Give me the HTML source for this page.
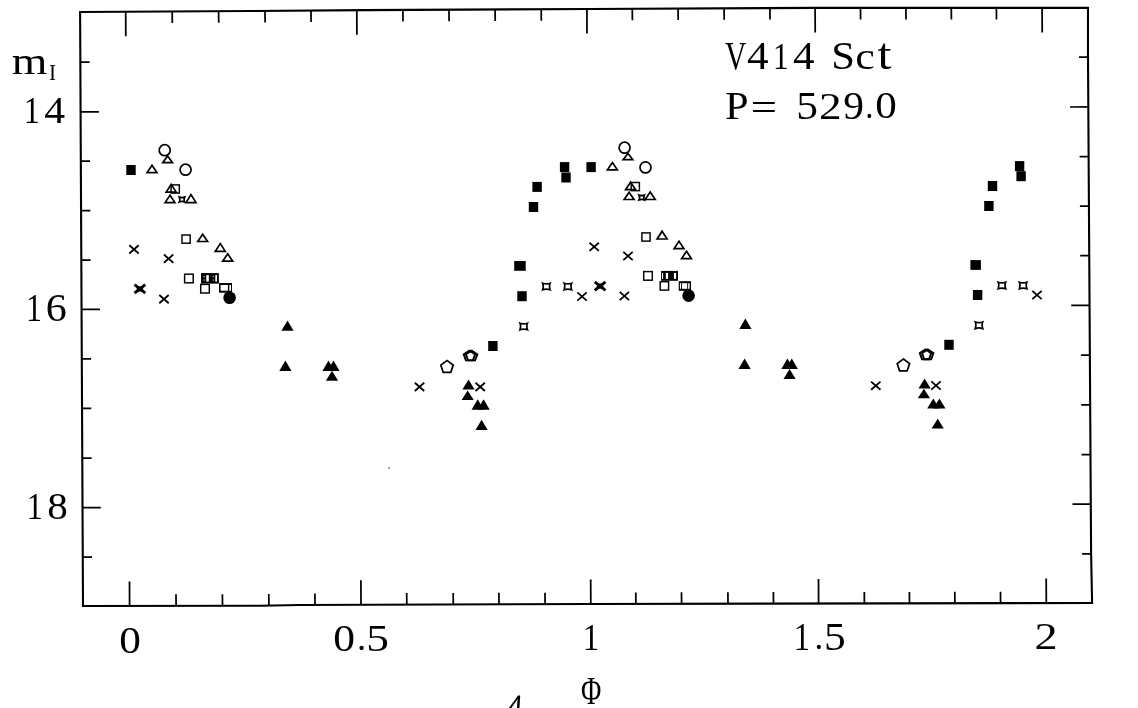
<!DOCTYPE html>
<html><head><meta charset="utf-8"><title>V414 Sct</title>
<style>
html,body{margin:0;padding:0;background:#fff;}
body{width:1138px;height:708px;overflow:hidden;font-family:"Liberation Serif",serif;}
svg{display:block;will-change:transform;}
text{font-family:"Liberation Serif",serif;fill:#000;}
</style></head><body>
<svg width="1138" height="708" viewBox="0 0 1138 708">
<g id="frame">
<polygon points="80.1,12.0 250,11.0 365,10.1 590,9.0 815,7.9 1088.0,7.9 1088.0,57 1091.1,554 1092.1,603.0 590,604.0 300,605.0 260,605.7 83.0,606.0" fill="none" stroke="#000" stroke-width="2.1" stroke-linejoin="miter"/>
<path d="M125.7,11.7L125.8,36.2M172.2,11.5L172.3,23.0M218.6,11.2L218.7,22.7M265.0,10.9L265.1,22.4M311.0,10.5L311.1,22.0M356.8,10.2L356.9,34.7M402.9,9.9L403.0,21.4M449.0,9.7L449.1,21.2M495.1,9.5L495.2,21.0M541.2,9.2L541.3,20.7M586.9,9.0L587.0,33.5M632.3,8.8L632.4,20.3M678.1,8.6L678.2,20.1M724.1,8.3L724.2,19.8M769.9,8.1L770.0,19.6M815.1,7.9L815.2,32.4M860.5,7.9L860.6,19.4M905.9,7.9L906.0,19.4M951.3,7.9L951.4,19.4M996.4,7.9L996.5,19.4M1042.1,7.9L1042.2,32.4M129.6,605.9L129.5,581.4M176.1,605.8L176.0,594.3M222.5,605.8L222.4,594.3M268.9,605.5L268.8,594.0M315.0,604.9L314.9,593.4M361.0,604.8L360.9,580.3M406.8,604.6L406.7,593.1M453.3,604.5L453.2,593.0M499.0,604.3L498.9,592.8M545.1,604.2L545.0,592.7M590.8,604.0L590.7,579.5M635.9,603.9L635.8,592.4M681.6,603.8L681.5,592.3M728.0,603.7L727.9,592.2M773.5,603.6L773.4,592.1M818.6,603.5L818.5,579.0M864.4,603.5L864.3,592.0M909.5,603.4L909.4,591.9M954.9,603.3L954.8,591.8M1000.6,603.2L1000.5,591.7M1046.3,603.1L1046.2,578.6M80.3,62.0L89.6,62.0M80.6,111.9L98.9,111.8M80.8,161.2L90.1,161.2M81.1,210.7L90.4,210.7M81.3,260.1L90.6,260.1M81.6,309.4L99.9,309.3M81.8,358.9L91.1,358.9M82.0,408.4L91.3,408.4M82.3,458.0L91.6,458.0M82.5,507.7L100.8,507.6M82.8,557.0L92.1,557.0M1088.0,57.0L1079.0,57.0M1088.3,106.9L1070.0,107.0M1088.6,156.5L1079.6,156.5M1088.9,206.0L1079.9,206.0M1089.2,255.7L1080.2,255.7M1089.5,305.3L1071.2,305.4M1089.9,355.1L1080.9,355.1M1090.2,404.9L1081.2,404.9M1090.5,454.6L1081.5,454.6M1090.8,504.1L1072.5,504.2M1091.1,553.9L1082.1,553.9" stroke="#000" stroke-width="1.75" fill="none"/>
<rect x="126.3" y="165.0" width="9.4" height="10" fill="#000"/>
<circle cx="164.7" cy="150.2" r="5.50" fill="none" stroke="#000" stroke-width="1.7"/>
<polygon points="167.6,155.9 172.5,162.7 162.7,162.7" fill="none" stroke="#000" stroke-width="1.7" stroke-linejoin="miter"/>
<polygon points="152.0,165.2 156.9,172.6 147.1,172.6" fill="none" stroke="#000" stroke-width="1.7" stroke-linejoin="miter"/>
<circle cx="185.6" cy="169.7" r="5.50" fill="none" stroke="#000" stroke-width="1.7"/>
<polygon points="171.2,184.4 176.2,192.1 166.2,192.1" fill="none" stroke="#000" stroke-width="1.7" stroke-linejoin="miter"/>
<rect x="171.1" y="184.9" width="8.2" height="8.2" fill="none" stroke="#000" stroke-width="1.45"/>
<polygon points="170.0,195.2 174.9,202.6 165.1,202.6" fill="none" stroke="#000" stroke-width="1.7" stroke-linejoin="miter"/>
<path d="M179.3,197.1Q182.0,198.1 184.7,197.1Q183.6,199.5 184.7,201.9Q182.0,200.9 179.3,201.9Q180.4,199.5 179.3,197.1Z" stroke="#000" stroke-width="1.7" stroke-linejoin="miter" stroke-miterlimit="10" fill="none"/>
<polygon points="191.0,194.6 196.0,202.6 186.0,202.6" fill="none" stroke="#000" stroke-width="1.7" stroke-linejoin="miter"/>
<path d="M129.3,245.3L138.7,253.5M129.3,253.5L138.7,245.3" stroke="#000" stroke-width="1.8" stroke-linecap="butt" fill="none"/>
<path d="M163.9,254.5L173.3,262.7M163.9,262.7L173.3,254.5" stroke="#000" stroke-width="1.8" stroke-linecap="butt" fill="none"/>
<path d="M135.7,285.6L144.1,292.2M135.7,292.2L144.1,285.6" stroke="#000" stroke-width="2.9" stroke-linecap="square" fill="none"/>
<rect x="136.7" y="286.3" width="6.4" height="5.2" fill="#000"/>
<path d="M159.3,295.0L168.7,303.2M159.3,303.2L168.7,295.0" stroke="#000" stroke-width="1.8" stroke-linecap="butt" fill="none"/>
<rect x="182.0" y="235.0" width="8.2" height="8.2" fill="none" stroke="#000" stroke-width="1.45"/>
<polygon points="202.7,234.3 207.6,241.5 197.8,241.5" fill="none" stroke="#000" stroke-width="1.7" stroke-linejoin="miter"/>
<polygon points="220.3,243.6 225.3,251.3 215.3,251.3" fill="none" stroke="#000" stroke-width="1.7" stroke-linejoin="miter"/>
<polygon points="227.7,253.8 232.7,261.2 222.7,261.2" fill="none" stroke="#000" stroke-width="1.7" stroke-linejoin="miter"/>
<rect x="184.6" y="274.2" width="8.6" height="8.6" fill="none" stroke="#000" stroke-width="1.45"/>
<rect x="201" y="273.1" width="17.9" height="10.5" fill="#000"/>
<rect x="203.6" y="276.1" width="1.0" height="1.2" fill="#fff"/><rect x="203.6" y="279.4" width="1.0" height="1.2" fill="#fff"/>
<rect x="206.3" y="275.1" width="2.5" height="6.5" fill="#fff"/>
<rect x="212.8" y="276.1" width="0.9" height="1.2" fill="#fff"/><rect x="212.8" y="279.4" width="0.9" height="1.2" fill="#fff"/>
<rect x="215.3" y="275.1" width="1.7" height="6.5" fill="#fff"/>
<rect x="200.7" y="284.4" width="8.6" height="8.6" fill="none" stroke="#000" stroke-width="1.45"/>
<rect x="219" y="283" width="13.0" height="9.7" fill="#000"/>
<rect x="220.6" y="285.0" width="7.3" height="5.7" fill="#fff"/>
<rect x="229.3" y="285.0" width="1.7" height="5.7" fill="#fff"/>
<circle cx="229.6" cy="297.7" r="6.30" fill="#000"/>
<polygon points="287.5,320.6 293.6,330.8 281.4,330.8" fill="#000"/>
<polygon points="285.4,360.4 291.5,370.9 279.3,370.9" fill="#000"/>
<polygon points="328.5,360.4 334.6,370.9 322.4,370.9" fill="#000"/>
<polygon points="333.5,360.4 339.6,370.9 327.4,370.9" fill="#000"/>
<polygon points="332.0,370.7 338.1,380.8 325.9,380.8" fill="#000"/>
<path d="M414.8,382.8L424.2,391.0M414.8,391.0L424.2,382.8" stroke="#000" stroke-width="1.8" stroke-linecap="butt" fill="none"/>
<polygon points="447.0,360.5 453.2,365.0 450.8,372.3 443.2,372.3 440.8,365.0" fill="none" stroke="#000" stroke-width="1.7"/>
<polygon points="469.4,350.6 475.1,354.3 472.9,360.4 465.9,360.4 463.7,354.3" fill="none" stroke="#000" stroke-width="1.9"/>
<polygon points="471.6,350.6 477.3,354.3 475.1,360.4 468.1,360.4 465.9,354.3" fill="none" stroke="#000" stroke-width="1.9"/>
<rect x="488.2" y="341.0" width="9.4" height="10" fill="#000"/>
<polygon points="468.5,379.5 474.6,389.6 462.4,389.6" fill="#000"/>
<path d="M475.5,382.8L484.9,391.0M475.5,391.0L484.9,382.8" stroke="#000" stroke-width="1.8" stroke-linecap="butt" fill="none"/>
<polygon points="467.7,390.4 473.8,399.9 461.6,399.9" fill="#000"/>
<polygon points="477.7,399.3 483.8,409.8 471.6,409.8" fill="#000"/>
<polygon points="483.6,399.3 489.7,409.8 477.5,409.8" fill="#000"/>
<polygon points="481.6,419.8 487.7,430.0 475.5,430.0" fill="#000"/>
<rect x="514.2" y="261.0" width="11.5" height="9.8" fill="#000"/>
<rect x="517.3" y="291.2" width="9.4" height="10" fill="#000"/>
<path d="M542.7,283.2Q546.4,284.5 550.1,283.2Q548.6,286.5 550.1,289.8Q546.4,288.5 542.7,289.8Q544.2,286.5 542.7,283.2Z" stroke="#000" stroke-width="1.7" stroke-linejoin="miter" stroke-miterlimit="10" fill="none"/>
<path d="M564.2,283.2Q567.9,284.5 571.6,283.2Q570.1,286.5 571.6,289.8Q567.9,288.5 564.2,289.8Q565.7,286.5 564.2,283.2Z" stroke="#000" stroke-width="1.7" stroke-linejoin="miter" stroke-miterlimit="10" fill="none"/>
<path d="M520.0,323.2Q523.7,324.5 527.4,323.2Q525.9,326.5 527.4,329.8Q523.7,328.5 520.0,329.8Q521.5,326.5 520.0,323.2Z" stroke="#000" stroke-width="1.7" stroke-linejoin="miter" stroke-miterlimit="10" fill="none"/>
<rect x="528.8" y="202.0" width="9.4" height="10" fill="#000"/>
<rect x="532.4" y="181.9" width="9.4" height="10" fill="#000"/>
<rect x="559.9" y="162.1" width="9.4" height="10" fill="#000"/>
<rect x="561.3" y="172.5" width="9.4" height="10" fill="#000"/>
<rect x="586.4" y="162.1" width="9.4" height="10" fill="#000"/>
<polygon points="612.4,162.4 617.4,169.8 607.4,169.8" fill="none" stroke="#000" stroke-width="1.7" stroke-linejoin="miter"/>
<circle cx="624.6" cy="147.7" r="5.50" fill="none" stroke="#000" stroke-width="1.7"/>
<polygon points="628.0,153.4 632.8,159.6 623.2,159.6" fill="none" stroke="#000" stroke-width="1.7" stroke-linejoin="miter"/>
<circle cx="645.5" cy="167.4" r="5.50" fill="none" stroke="#000" stroke-width="1.7"/>
<polygon points="630.6,182.1 635.6,189.7 625.6,189.7" fill="none" stroke="#000" stroke-width="1.7" stroke-linejoin="miter"/>
<rect x="631.2" y="182.5" width="8.2" height="8.2" fill="none" stroke="#000" stroke-width="1.45"/>
<polygon points="629.1,192.3 634.0,199.5 624.2,199.5" fill="none" stroke="#000" stroke-width="1.7" stroke-linejoin="miter"/>
<path d="M639.0,195.1Q641.7,196.1 644.4,195.1Q643.3,197.5 644.4,199.9Q641.7,198.9 639.0,199.9Q640.1,197.5 639.0,195.1Z" stroke="#000" stroke-width="1.7" stroke-linejoin="miter" stroke-miterlimit="10" fill="none"/>
<polygon points="650.2,192.0 655.2,199.5 645.2,199.5" fill="none" stroke="#000" stroke-width="1.7" stroke-linejoin="miter"/>
<path d="M589.5,242.7L598.9,250.9M589.5,250.9L598.9,242.7" stroke="#000" stroke-width="1.8" stroke-linecap="butt" fill="none"/>
<path d="M623.3,251.9L632.7,260.1M623.3,260.1L632.7,251.9" stroke="#000" stroke-width="1.8" stroke-linecap="butt" fill="none"/>
<path d="M595.9,282.8L604.3,289.4M595.9,289.4L604.3,282.8" stroke="#000" stroke-width="2.9" stroke-linecap="square" fill="none"/>
<rect x="596.9" y="283.5" width="6.4" height="5.2" fill="#000"/>
<path d="M577.3,292.4L586.7,300.6M577.3,300.6L586.7,292.4" stroke="#000" stroke-width="1.8" stroke-linecap="butt" fill="none"/>
<path d="M619.7,291.9L629.1,300.1M619.7,300.1L629.1,291.9" stroke="#000" stroke-width="1.8" stroke-linecap="butt" fill="none"/>
<rect x="641.9" y="232.9" width="8.2" height="8.2" fill="none" stroke="#000" stroke-width="1.45"/>
<polygon points="662.1,231.2 667.1,239.0 657.1,239.0" fill="none" stroke="#000" stroke-width="1.7" stroke-linejoin="miter"/>
<polygon points="679.0,241.2 683.9,248.6 674.1,248.6" fill="none" stroke="#000" stroke-width="1.7" stroke-linejoin="miter"/>
<polygon points="686.5,251.3 691.4,258.6 681.6,258.6" fill="none" stroke="#000" stroke-width="1.7" stroke-linejoin="miter"/>
<rect x="643.7" y="271.6" width="8.6" height="8.6" fill="none" stroke="#000" stroke-width="1.45"/>
<rect x="661.1" y="270.9" width="16.9" height="9.9" fill="#000"/>
<rect x="662.0" y="272.9" width="1.1" height="5.9" fill="#fff"/>
<rect x="665.8" y="272.9" width="2.3" height="5.9" fill="#fff"/>
<rect x="673.9" y="272.9" width="2.2" height="5.9" fill="#fff"/>
<rect x="660.2" y="281.7" width="8.4" height="8.4" fill="none" stroke="#000" stroke-width="1.45"/>
<rect x="678.7" y="281.2" width="12.3" height="9.6" fill="#000"/>
<rect x="679.9" y="283.2" width="1.1" height="5.6" fill="#fff"/>
<rect x="681.9" y="283.2" width="5.3" height="5.6" fill="#fff"/>
<rect x="688.1" y="283.2" width="1.5" height="5.6" fill="#fff"/>
<circle cx="688.6" cy="295.6" r="6.30" fill="#000"/>
<polygon points="745.4,318.5 751.5,329.0 739.3,329.0" fill="#000"/>
<polygon points="744.6,358.4 750.7,368.9 738.5,368.9" fill="#000"/>
<polygon points="787.4,358.4 793.5,368.9 781.3,368.9" fill="#000"/>
<polygon points="791.8,358.4 797.9,368.9 785.7,368.9" fill="#000"/>
<polygon points="789.6,368.9 795.7,379.1 783.5,379.1" fill="#000"/>
<path d="M871.1,381.6L880.5,389.8M871.1,389.8L880.5,381.6" stroke="#000" stroke-width="1.8" stroke-linecap="butt" fill="none"/>
<polygon points="903.4,359.0 909.6,363.5 907.2,370.8 899.6,370.8 897.2,363.5" fill="none" stroke="#000" stroke-width="1.7"/>
<polygon points="925.5,349.4 931.2,353.1 929.0,359.2 922.0,359.2 919.8,353.1" fill="none" stroke="#000" stroke-width="1.9"/>
<polygon points="927.7,349.4 933.4,353.1 931.2,359.2 924.2,359.2 922.0,353.1" fill="none" stroke="#000" stroke-width="1.9"/>
<rect x="944.3" y="339.8" width="9.4" height="10" fill="#000"/>
<polygon points="924.6,378.6 930.7,388.6 918.5,388.6" fill="#000"/>
<path d="M931.3,381.4L940.7,389.6M931.3,389.6L940.7,381.4" stroke="#000" stroke-width="1.8" stroke-linecap="butt" fill="none"/>
<polygon points="923.9,388.7 930.0,398.2 917.8,398.2" fill="#000"/>
<polygon points="933.3,398.6 939.4,408.4 927.2,408.4" fill="#000"/>
<polygon points="939.4,398.6 945.5,408.4 933.3,408.4" fill="#000"/>
<polygon points="937.7,418.7 943.8,428.4 931.6,428.4" fill="#000"/>
<rect x="1014.9" y="161.1" width="9.4" height="10" fill="#000"/>
<rect x="1016.4" y="171.2" width="9.4" height="10" fill="#000"/>
<rect x="987.8" y="181.0" width="9.4" height="10" fill="#000"/>
<rect x="984.2" y="201.0" width="9.4" height="10" fill="#000"/>
<rect x="970.4" y="260.1" width="10.5" height="9.8" fill="#000"/>
<rect x="972.9" y="290.0" width="9.4" height="10" fill="#000"/>
<path d="M998.2,282.2Q1001.9,283.5 1005.6,282.2Q1004.1,285.5 1005.6,288.8Q1001.9,287.5 998.2,288.8Q999.7,285.5 998.2,282.2Z" stroke="#000" stroke-width="1.7" stroke-linejoin="miter" stroke-miterlimit="10" fill="none"/>
<path d="M1019.4,282.2Q1023.1,283.5 1026.8,282.2Q1025.3,285.5 1026.8,288.8Q1023.1,287.5 1019.4,288.8Q1020.9,285.5 1019.4,282.2Z" stroke="#000" stroke-width="1.7" stroke-linejoin="miter" stroke-miterlimit="10" fill="none"/>
<path d="M1032.3,290.9L1041.7,299.1M1032.3,299.1L1041.7,290.9" stroke="#000" stroke-width="1.8" stroke-linecap="butt" fill="none"/>
<path d="M975.3,322.0Q979.0,323.3 982.7,322.0Q981.2,325.3 982.7,328.6Q979.0,327.3 975.3,328.6Q976.8,325.3 975.3,322.0Z" stroke="#000" stroke-width="1.7" stroke-linejoin="miter" stroke-miterlimit="10" fill="none"/>
<rect x="388.5" y="467.5" width="1.2" height="1.2" fill="#000"/>
<path d="M508.6,708.5L518.0,695.6L520.2,695.4L519.4,708.5L517.0,708.5L517.6,699.0L511.0,708.5Z" fill="#000"/>
</g>
<g id="labels">
<text transform="translate(23.79,123.20) scale(0.3229,0.3802)" font-size="100">1</text>
<text transform="translate(44.17,123.39) scale(0.4172,0.3831)" font-size="100">4</text>
<text transform="translate(25.92,321.10) scale(0.3200,0.4000)" font-size="100">1</text>
<text transform="translate(45.70,320.91) scale(0.4212,0.3940)" font-size="100">6</text>
<text transform="translate(26.82,519.40) scale(0.3200,0.3893)" font-size="100">1</text>
<text transform="translate(47.15,519.22) scale(0.4119,0.3807)" font-size="100">8</text>
<text transform="translate(119.17,652.61) scale(0.4333,0.3867)" font-size="100">0</text>
<text transform="translate(333.16,650.82) scale(0.4357,0.3763)" font-size="100">0</text>
<text transform="translate(357.12,650.45) scale(0.3667,0.3652)" font-size="100">.</text>
<text transform="translate(366.27,650.82) scale(0.4550,0.3820)" font-size="100">5</text>
<text transform="translate(582.74,650.20) scale(0.3286,0.3863)" font-size="100">1</text>
<text transform="translate(793.77,650.00) scale(0.3257,0.3939)" font-size="100">1</text>
<text transform="translate(814.62,649.45) scale(0.3500,0.3652)" font-size="100">.</text>
<text transform="translate(824.09,649.81) scale(0.4350,0.3910)" font-size="100">5</text>
<text transform="translate(1034.62,649.10) scale(0.4625,0.3833)" font-size="100">2</text>
<text transform="translate(725.10,68.71) scale(0.2957,0.3910)" font-size="100">V</text>
<text transform="translate(746.94,69.20) scale(0.4323,0.3908)" font-size="100">4</text>
<text transform="translate(772.90,69.00) scale(0.3114,0.3878)" font-size="100">1</text>
<text transform="translate(792.94,69.20) scale(0.4301,0.3908)" font-size="100">4</text>
<text transform="translate(831.33,68.91) scale(0.4256,0.3940)" font-size="100">S</text>
<text transform="translate(855.14,68.92) scale(0.4400,0.3750)" font-size="100">c</text>
<text transform="translate(877.60,68.86) scale(0.5038,0.4421)" font-size="100">t</text>
<text transform="translate(724.93,118.90) scale(0.4247,0.3924)" font-size="100">P</text>
<text transform="translate(750.77,120.29) scale(0.4667,0.3800)" font-size="100">=</text>
<text transform="translate(796.29,118.61) scale(0.4350,0.3940)" font-size="100">5</text>
<text transform="translate(818.96,118.70) scale(0.4525,0.3864)" font-size="100">2</text>
<text transform="translate(843.26,118.61) scale(0.4140,0.3910)" font-size="100">9</text>
<text transform="translate(865.19,118.37) scale(0.3250,0.3565)" font-size="100">.</text>
<text transform="translate(875.18,118.41) scale(0.4310,0.3852)" font-size="100">0</text>
<text transform="translate(11.78,73.80) scale(0.4581,0.3766)" font-size="100">m</text>
<text transform="translate(48.96,79.70) scale(0.2113,0.2338)" font-size="100">I</text>
<text transform="translate(580.97,704.30) scale(0.2776,0.3969)" font-size="100">&#934;</text>
</g>
</svg>
</body></html>
